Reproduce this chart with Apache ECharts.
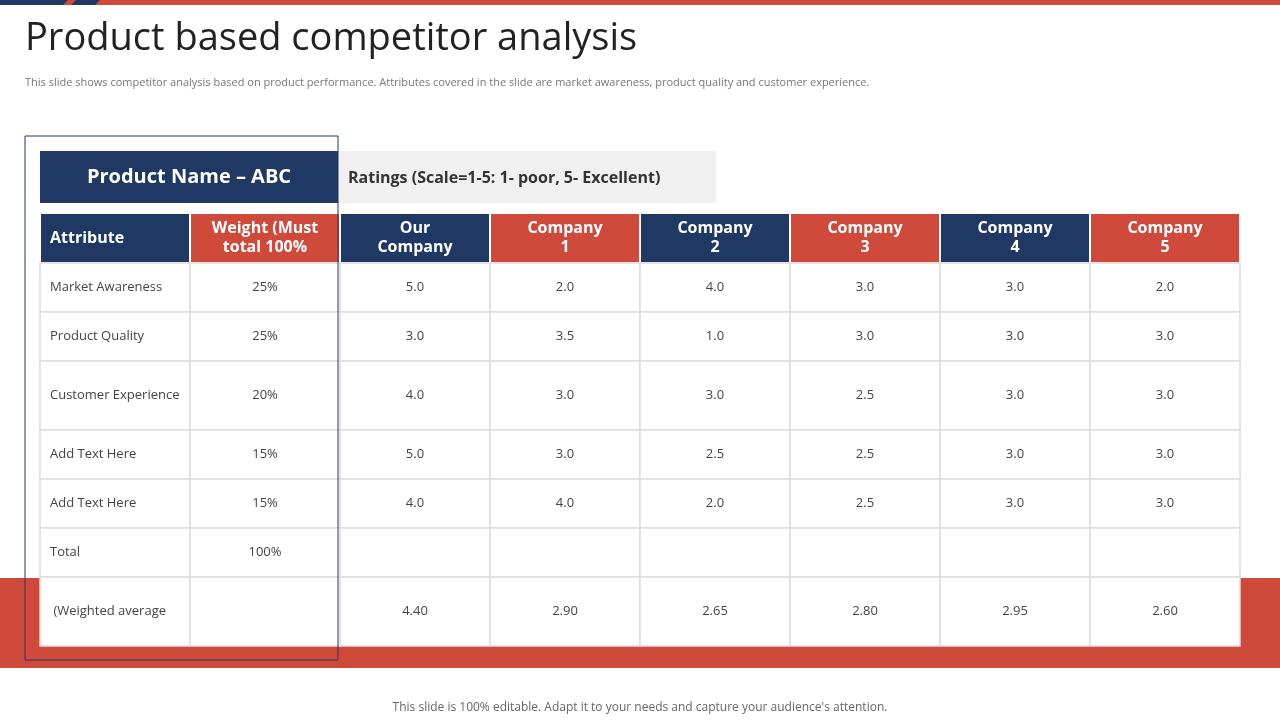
<!DOCTYPE html>
<html><head><meta charset="utf-8">
<script src="https://cdn.jsdelivr.net/npm/echarts@6/dist/echarts.min.js"></script>
<style>html,body{margin:0;padding:0;background:#fff}#c{width:1280px;height:720px}</style>
</head><body><div id="c"></div>
<script>
const headers = ['Attribute', 'Weight (Must\ntotal 100%', 'Our\nCompany', 'Company\n1', 'Company\n2', 'Company\n3', 'Company\n4', 'Company\n5'];
const attributes = ['Market Awareness', 'Product Quality', 'Customer Experience', 'Add Text Here', 'Add Text Here', 'Total', ' (Weighted average'];
const weights = ['25%', '25%', '20%', '15%', '15%', '100%', ''];
const ourCompany = ['5.0', '3.0', '4.0', '5.0', '4.0', '', '4.40'];
const company1 = ['2.0', '3.5', '3.0', '3.0', '4.0', '', '2.90'];
const company2 = ['4.0', '1.0', '3.0', '2.5', '2.0', '', '2.65'];
const company3 = ['3.0', '3.0', '2.5', '2.5', '2.5', '', '2.80'];
const company4 = ['3.0', '3.0', '3.0', '3.0', '3.0', '', '2.95'];
const company5 = ['2.0', '3.0', '3.0', '3.0', '3.0', '', '2.60'];
// layout (row heights in px units)
const rowHeights = [50, 49, 49, 69, 49, 49, 49, 69];

const columns = [attributes, weights, ourCompany, company1, company2, company3, company4, company5];
const rowStart = [];
let acc = 0;
rowHeights.forEach(h => { rowStart.push(acc); acc += h; });
const total = acc;
const NAVY = '#1f3864', RED = '#d04a3c';

const cells = [];
for (let r = 0; r < rowHeights.length; r++) for (let c = 0; c < headers.length; c++) cells.push([c, r]);

const chart = echarts.init(document.getElementById('c'));
chart.setOption({
  animation: false,
  grid: { left: 40, top: 213, width: 1200, height: total },
  xAxis: { type: 'value', min: 0, max: 8, show: false },
  yAxis: { type: 'value', min: 0, max: total, inverse: true, show: false },
  graphic: [
    { type: 'rect', shape: { x: 0, y: 0, width: 1280, height: 5 }, style: { fill: RED } },
    { type: 'polygon', shape: { points: [[0,0],[68,0],[63,5],[0,5]] }, style: { fill: NAVY } },
    { type: 'polygon', shape: { points: [[76,0],[100,0],[95,5],[71,5]] }, style: { fill: NAVY } },
    { type: 'rect', shape: { x: 0, y: 578, width: 1280, height: 90 }, style: { fill: RED }, z: -10 },
    { type: 'rect', shape: { x: 25, y: 136, width: 313, height: 524 }, style: { fill: 'none', stroke: NAVY, lineWidth: 1 }, z: 100 },
    { type: 'text', left: 25, top: 20, style: { text: 'Product based competitor analysis', font: '38px "Open Sans", sans-serif', fill: '#222' } },
    { type: 'text', left: 25, top: 77, style: { text: 'This slide shows competitor analysis based on product performance. Attributes covered in the slide are market awareness, product quality and customer experience.', font: '11px "Open Sans", sans-serif', fill: '#777' } },
    { type: 'rect', shape: { x: 40, y: 151, width: 298, height: 52 }, style: { fill: NAVY } },
    { type: 'text', x: 189, y: 177, style: { text: 'Product Name – ABC', font: 'bold 20px "Open Sans", sans-serif', fill: '#fff', align: 'center', verticalAlign: 'middle' } },
    { type: 'rect', shape: { x: 338, y: 151, width: 378, height: 52 }, style: { fill: '#f0f0f0' } },
    { type: 'text', x: 348, y: 178, style: { text: 'Ratings (Scale=1-5: 1- poor, 5- Excellent)', font: 'bold 16px "Open Sans", sans-serif', fill: '#333', verticalAlign: 'middle' } },
    { type: 'text', x: 640, y: 708, style: { text: "This slide is 100% editable. Adapt it to your needs and capture your audience's attention.", font: '12px "Open Sans", sans-serif', fill: '#666', align: 'center', verticalAlign: 'middle' } }
  ],
  series: [{
    type: 'custom',
    data: cells,
    renderItem: function (params, api) {
      const c = api.value(0), r = api.value(1);
      const p0 = api.coord([c, rowStart[r]]);
      const p1 = api.coord([c + 1, rowStart[r] + rowHeights[r]]);
      const w = p1[0] - p0[0], h = p1[1] - p0[1];
      const isHead = r === 0;
      const fill = isHead ? (c % 2 === 0 ? NAVY : RED) : '#fff';
      const txt = isHead ? headers[c] : columns[c][r - 1];
      const left = c === 0;
      return {
        type: 'group',
        children: [
          { type: 'rect', shape: { x: p0[0], y: p0[1], width: w, height: h },
            style: { fill: fill, stroke: isHead ? '#fff' : '#dddddd', lineWidth: isHead ? 2 : 1.5 } },
          { type: 'text', x: left ? p0[0] + 10 : p0[0] + w / 2, y: p0[1] + h / 2,
            style: { text: txt, align: left ? 'left' : 'center', verticalAlign: 'middle',
              font: isHead ? 'bold 16px "Open Sans", sans-serif' : '13px "Open Sans", sans-serif',
              lineHeight: isHead ? 19 : 16,
              fill: isHead ? '#fff' : '#444' } }
        ]
      };
    }
  }]
});
</script></body></html>
